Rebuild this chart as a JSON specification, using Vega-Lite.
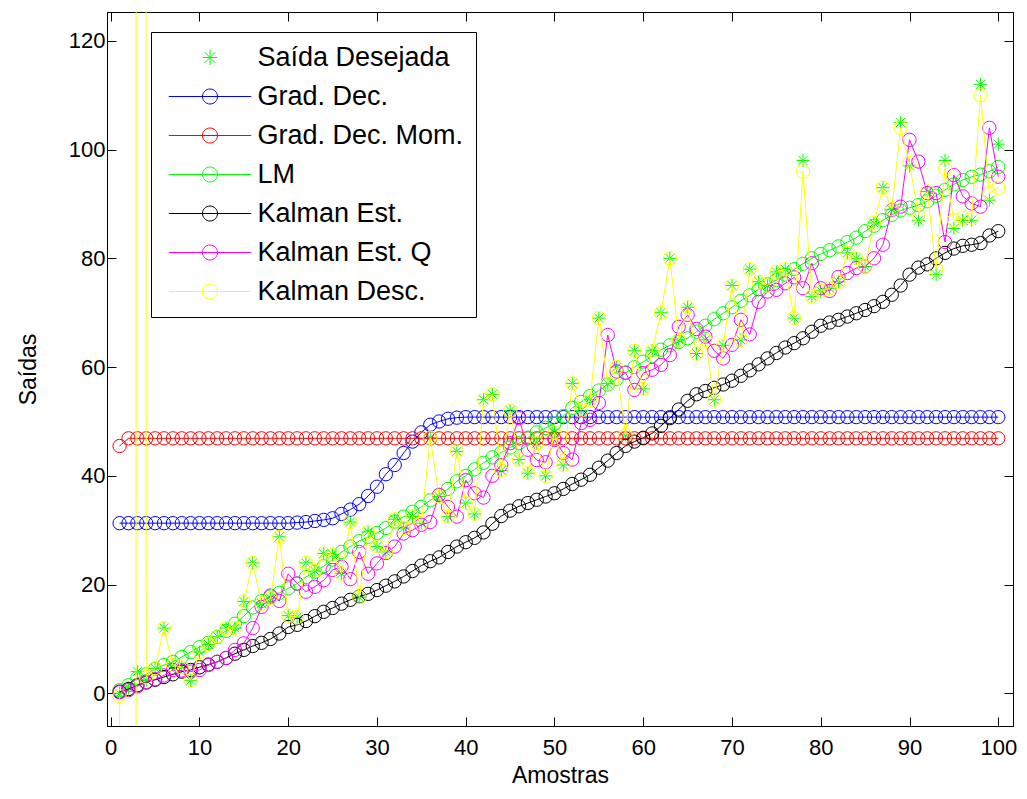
{
  "$schema": "https://vega.github.io/schema/vega-lite/v6.json",
  "width": 906,
  "height": 714,
  "autosize": {"type": "none"},
  "padding": {"left": 107, "top": 12, "right": 14, "bottom": 73},
  "background": "white",
  "config": {
    "view": {"stroke": "black", "strokeWidth": 1},
    "font": "Liberation Sans",
    "axis": {"labelFont": "Liberation Sans", "titleFont": "Liberation Sans", "labelColor": "black", "titleColor": "black", "tickColor": "black", "domainColor": "black", "grid": false, "titleFontWeight": "normal"}
  },
  "data": {
    "values": [
      {"n":1,"d":0,"gd":31.3,"gdm":45.5,"lm":0.6,"ke":0.3,"keq":0.2,"kd":-0.5},
      {"n":2,"d":1,"gd":31.3,"gdm":46.9,"lm":1.5,"ke":0.8,"keq":0.6,"kd":-60000},
      {"n":3,"d":4,"gd":31.3,"gdm":46.9,"lm":2.8,"ke":1.5,"keq":1.3,"kd":10000},
      {"n":4,"d":2.4,"gd":31.3,"gdm":46.9,"lm":3.5,"ke":2,"keq":2.1,"kd":3},
      {"n":5,"d":4.6,"gd":31.3,"gdm":46.9,"lm":4.5,"ke":2.5,"keq":2.6,"kd":4.6},
      {"n":6,"d":12,"gd":31.3,"gdm":46.9,"lm":5.2,"ke":3,"keq":3.3,"kd":12},
      {"n":7,"d":5.2,"gd":31.3,"gdm":46.9,"lm":5.8,"ke":3.5,"keq":4.3,"kd":5.2},
      {"n":8,"d":4.8,"gd":31.3,"gdm":46.9,"lm":6.7,"ke":4,"keq":4.2,"kd":4.8},
      {"n":9,"d":2.4,"gd":31.3,"gdm":46.9,"lm":7.6,"ke":4.3,"keq":4,"kd":2.4},
      {"n":10,"d":7.6,"gd":31.3,"gdm":46.9,"lm":8.5,"ke":4.8,"keq":4.3,"kd":7.6},
      {"n":11,"d":9,"gd":31.3,"gdm":46.9,"lm":9.3,"ke":5.3,"keq":5.2,"kd":9},
      {"n":12,"d":10.5,"gd":31.3,"gdm":46.9,"lm":10.4,"ke":5.8,"keq":5.8,"kd":10.5},
      {"n":13,"d":12,"gd":31.3,"gdm":46.9,"lm":11.5,"ke":6.5,"keq":6.5,"kd":12},
      {"n":14,"d":12,"gd":31.3,"gdm":46.9,"lm":12.8,"ke":7.3,"keq":8,"kd":12},
      {"n":15,"d":16.9,"gd":31.3,"gdm":46.9,"lm":14.2,"ke":8,"keq":9.2,"kd":16.9},
      {"n":16,"d":24,"gd":31.3,"gdm":46.9,"lm":15.8,"ke":8.7,"keq":12,"kd":24},
      {"n":17,"d":16.5,"gd":31.3,"gdm":46.9,"lm":17,"ke":9.3,"keq":15.9,"kd":16.5},
      {"n":18,"d":17.5,"gd":31.3,"gdm":46.9,"lm":17.8,"ke":10,"keq":18,"kd":17.5},
      {"n":19,"d":28.8,"gd":31.3,"gdm":46.9,"lm":18.5,"ke":11,"keq":17,"kd":28.8},
      {"n":20,"d":14.3,"gd":31.3,"gdm":46.9,"lm":19.3,"ke":12.2,"keq":22,"kd":14.3},
      {"n":21,"d":14,"gd":31.4,"gdm":46.9,"lm":20.2,"ke":12.6,"keq":20.2,"kd":14},
      {"n":22,"d":24,"gd":31.5,"gdm":46.9,"lm":21.4,"ke":13.3,"keq":18.7,"kd":24},
      {"n":23,"d":22.5,"gd":31.7,"gdm":46.9,"lm":22.4,"ke":14.2,"keq":19.6,"kd":22.5},
      {"n":24,"d":25.7,"gd":31.9,"gdm":46.9,"lm":23.4,"ke":15,"keq":20.8,"kd":25.7},
      {"n":25,"d":25.5,"gd":32.2,"gdm":46.9,"lm":24.6,"ke":15.7,"keq":22.7,"kd":25.5},
      {"n":26,"d":22,"gd":33,"gdm":46.9,"lm":26,"ke":16.5,"keq":23.3,"kd":22},
      {"n":27,"d":31.5,"gd":33.8,"gdm":46.9,"lm":27,"ke":17.2,"keq":21,"kd":31.5},
      {"n":28,"d":17.7,"gd":34.8,"gdm":46.9,"lm":28,"ke":17.8,"keq":26,"kd":17.7},
      {"n":29,"d":29.7,"gd":36.3,"gdm":46.9,"lm":28.8,"ke":18.3,"keq":22,"kd":29.7},
      {"n":30,"d":27,"gd":38,"gdm":46.9,"lm":29.5,"ke":19,"keq":23.9,"kd":27},
      {"n":31,"d":26,"gd":40.3,"gdm":46.9,"lm":30.4,"ke":19.8,"keq":25.8,"kd":26},
      {"n":32,"d":32,"gd":42,"gdm":46.9,"lm":31.6,"ke":20.6,"keq":27,"kd":32},
      {"n":33,"d":30.4,"gd":44.2,"gdm":46.9,"lm":32.5,"ke":21.5,"keq":29.4,"kd":30.4},
      {"n":34,"d":32.5,"gd":46.3,"gdm":46.9,"lm":33.4,"ke":22.5,"keq":30,"kd":32.5},
      {"n":35,"d":31.3,"gd":48,"gdm":46.9,"lm":34.3,"ke":23.5,"keq":31,"kd":31.3},
      {"n":36,"d":47,"gd":49.4,"gdm":46.9,"lm":35.5,"ke":24.3,"keq":31.5,"kd":47},
      {"n":37,"d":36.2,"gd":50,"gdm":46.9,"lm":36.5,"ke":25,"keq":36.5,"kd":36.2},
      {"n":38,"d":32.5,"gd":50.5,"gdm":46.9,"lm":37.6,"ke":26,"keq":34.3,"kd":32.5},
      {"n":39,"d":44.5,"gd":50.7,"gdm":46.9,"lm":39,"ke":27,"keq":32.5,"kd":44.5},
      {"n":40,"d":35,"gd":50.8,"gdm":46.9,"lm":40,"ke":27.8,"keq":39.2,"kd":35},
      {"n":41,"d":33,"gd":50.8,"gdm":46.9,"lm":41.2,"ke":28.6,"keq":36.8,"kd":33},
      {"n":42,"d":54,"gd":50.8,"gdm":46.9,"lm":42.4,"ke":29.6,"keq":36,"kd":54},
      {"n":43,"d":55,"gd":50.8,"gdm":46.9,"lm":43.4,"ke":31.2,"keq":40,"kd":55},
      {"n":44,"d":41,"gd":50.8,"gdm":46.9,"lm":44.3,"ke":32.6,"keq":42,"kd":41},
      {"n":45,"d":52,"gd":50.8,"gdm":46.9,"lm":45.2,"ke":33.6,"keq":46,"kd":52},
      {"n":46,"d":43,"gd":50.8,"gdm":46.9,"lm":46,"ke":34.4,"keq":50.6,"kd":43},
      {"n":47,"d":40.5,"gd":50.8,"gdm":46.9,"lm":47,"ke":35,"keq":44.8,"kd":40.5},
      {"n":48,"d":46,"gd":50.8,"gdm":46.9,"lm":48,"ke":35.6,"keq":42.9,"kd":46},
      {"n":49,"d":40,"gd":50.8,"gdm":46.9,"lm":48.8,"ke":36.2,"keq":42.5,"kd":40},
      {"n":50,"d":48,"gd":50.8,"gdm":46.9,"lm":49.6,"ke":36.8,"keq":46.6,"kd":48},
      {"n":51,"d":42,"gd":50.8,"gdm":46.9,"lm":51,"ke":37.6,"keq":44.2,"kd":42},
      {"n":52,"d":57,"gd":50.8,"gdm":46.9,"lm":52.5,"ke":38.5,"keq":43,"kd":57},
      {"n":53,"d":52,"gd":50.8,"gdm":46.9,"lm":53.6,"ke":39.3,"keq":49.7,"kd":52},
      {"n":54,"d":54,"gd":50.8,"gdm":46.9,"lm":54.7,"ke":40.2,"keq":50.3,"kd":54},
      {"n":55,"d":69,"gd":50.8,"gdm":46.9,"lm":55.7,"ke":41.5,"keq":53.4,"kd":69},
      {"n":56,"d":57,"gd":50.8,"gdm":46.9,"lm":56.8,"ke":42.8,"keq":65.9,"kd":57},
      {"n":57,"d":60,"gd":50.8,"gdm":46.9,"lm":57.8,"ke":44.2,"keq":59.2,"kd":60},
      {"n":58,"d":47.5,"gd":50.8,"gdm":46.9,"lm":58.9,"ke":45.5,"keq":59,"kd":47.5},
      {"n":59,"d":63,"gd":50.8,"gdm":46.9,"lm":60,"ke":46.3,"keq":55.8,"kd":63},
      {"n":60,"d":56,"gd":50.8,"gdm":46.9,"lm":61,"ke":47,"keq":58.9,"kd":56},
      {"n":61,"d":63,"gd":50.8,"gdm":46.9,"lm":62,"ke":47.8,"keq":59.5,"kd":63},
      {"n":62,"d":70,"gd":50.8,"gdm":46.9,"lm":63.2,"ke":49.2,"keq":60.4,"kd":70},
      {"n":63,"d":80,"gd":50.8,"gdm":46.9,"lm":64,"ke":50.6,"keq":62.2,"kd":80},
      {"n":64,"d":65,"gd":50.8,"gdm":46.9,"lm":64.6,"ke":52.2,"keq":67.4,"kd":65},
      {"n":65,"d":71,"gd":50.8,"gdm":46.9,"lm":65.3,"ke":53.8,"keq":69.6,"kd":71},
      {"n":66,"d":62.5,"gd":50.8,"gdm":46.9,"lm":66.5,"ke":55,"keq":67,"kd":62.5},
      {"n":67,"d":65,"gd":50.8,"gdm":46.9,"lm":67.6,"ke":55.6,"keq":65.6,"kd":65},
      {"n":68,"d":54,"gd":50.8,"gdm":46.9,"lm":68.8,"ke":56.2,"keq":63,"kd":54},
      {"n":69,"d":64,"gd":50.8,"gdm":46.9,"lm":69.9,"ke":56.8,"keq":61.6,"kd":64},
      {"n":70,"d":75,"gd":50.8,"gdm":46.9,"lm":71,"ke":57.5,"keq":64.1,"kd":75},
      {"n":71,"d":65,"gd":50.8,"gdm":46.9,"lm":72.2,"ke":58.4,"keq":68.7,"kd":65},
      {"n":72,"d":78,"gd":50.8,"gdm":46.9,"lm":73.2,"ke":59.4,"keq":66,"kd":78},
      {"n":73,"d":75.7,"gd":50.8,"gdm":46.9,"lm":74.3,"ke":60.5,"keq":72,"kd":75.7},
      {"n":74,"d":75,"gd":50.8,"gdm":46.9,"lm":75.2,"ke":61.6,"keq":73.9,"kd":75},
      {"n":75,"d":77.5,"gd":50.8,"gdm":46.9,"lm":76,"ke":62.6,"keq":74.2,"kd":77.5},
      {"n":76,"d":78,"gd":50.8,"gdm":46.9,"lm":77,"ke":63.6,"keq":75.4,"kd":78},
      {"n":77,"d":69,"gd":50.8,"gdm":46.9,"lm":78,"ke":64.4,"keq":76.5,"kd":69},
      {"n":78,"d":98,"gd":50.8,"gdm":46.9,"lm":79,"ke":65.3,"keq":74.5,"kd":96},
      {"n":79,"d":73,"gd":50.8,"gdm":46.9,"lm":80,"ke":66.5,"keq":79.1,"kd":73},
      {"n":80,"d":74,"gd":50.8,"gdm":46.9,"lm":80.8,"ke":67.6,"keq":74.5,"kd":74},
      {"n":81,"d":74.5,"gd":50.8,"gdm":46.9,"lm":81.5,"ke":68.2,"keq":74,"kd":74.5},
      {"n":82,"d":75.7,"gd":50.8,"gdm":46.9,"lm":82.2,"ke":68.7,"keq":76.6,"kd":75.7},
      {"n":83,"d":81,"gd":50.8,"gdm":46.9,"lm":83,"ke":69.3,"keq":77.3,"kd":81},
      {"n":84,"d":80,"gd":50.8,"gdm":46.9,"lm":83.8,"ke":69.9,"keq":78.2,"kd":80},
      {"n":85,"d":78.5,"gd":50.8,"gdm":46.9,"lm":85,"ke":70.5,"keq":78.5,"kd":78.5},
      {"n":86,"d":86.5,"gd":50.8,"gdm":46.9,"lm":86,"ke":71.2,"keq":80,"kd":86.5},
      {"n":87,"d":93,"gd":50.8,"gdm":46.9,"lm":87,"ke":72,"keq":82.5,"kd":93},
      {"n":88,"d":89,"gd":50.8,"gdm":46.9,"lm":88,"ke":73.3,"keq":88.9,"kd":89},
      {"n":89,"d":105,"gd":50.8,"gdm":46.9,"lm":88.8,"ke":75,"keq":89.5,"kd":104},
      {"n":90,"d":97,"gd":50.8,"gdm":46.9,"lm":89.3,"ke":77,"keq":101.8,"kd":97.5},
      {"n":91,"d":87,"gd":50.8,"gdm":46.9,"lm":89.8,"ke":78.3,"keq":97.8,"kd":88},
      {"n":92,"d":92.3,"gd":50.8,"gdm":46.9,"lm":90.5,"ke":78.9,"keq":92,"kd":92.3},
      {"n":93,"d":77,"gd":50.8,"gdm":46.9,"lm":91.5,"ke":80,"keq":92,"kd":78},
      {"n":94,"d":98,"gd":50.8,"gdm":46.9,"lm":92.6,"ke":81,"keq":83,"kd":96.5},
      {"n":95,"d":85.5,"gd":50.8,"gdm":46.9,"lm":93.6,"ke":81.8,"keq":95.3,"kd":87},
      {"n":96,"d":87,"gd":50.8,"gdm":46.9,"lm":94.4,"ke":82.3,"keq":91.4,"kd":87.5},
      {"n":97,"d":87,"gd":50.8,"gdm":46.9,"lm":95,"ke":82.5,"keq":90.1,"kd":87.5},
      {"n":98,"d":112,"gd":50.8,"gdm":46.9,"lm":95.4,"ke":82.8,"keq":89.5,"kd":110},
      {"n":99,"d":90.7,"gd":50.8,"gdm":46.9,"lm":96,"ke":84.2,"keq":104,"kd":92},
      {"n":100,"d":101,"gd":50.8,"gdm":46.9,"lm":96.8,"ke":85,"keq":95,"kd":93}
    ]
  },
  "transform": [{"fold": ["d", "gd", "gdm", "lm", "ke", "keq", "kd"], "as": ["s", "v"]}],
  "resolve": {"axis": {"x": "independent", "y": "independent"}},
  "encoding": {
    "color": {
      "field": "s",
      "type": "nominal",
      "scale": {"domain": ["d", "gd", "gdm", "lm", "ke", "keq", "kd"], "range": ["#00ff00", "#0000ff", "#ff0000", "#00ff00", "#000000", "#ff00ff", "#ffff00"]},
      "legend": {
        "orient": "none",
        "legendX": 44,
        "legendY": 20,
        "title": null,
        "padding": 12,
        "strokeColor": "black",
        "fillColor": "white",
        "labelFont": "Liberation Sans",
        "labelFontSize": 27,
        "labelLimit": 0,
        "labelColor": "black",
        "symbolSize": 225,
        "symbolStrokeWidth": 1,
        "symbolOffset": 33.5,
        "labelOffset": 34,
        "rowPadding": 11,
        "labelExpr": "datum.value == 'd' ? 'Saída Desejada' : datum.value == 'gd' ? 'Grad. Dec.' : datum.value == 'gdm' ? 'Grad. Dec. Mom.' : datum.value == 'lm' ? 'LM' : datum.value == 'ke' ? 'Kalman Est.' : datum.value == 'keq' ? 'Kalman Est. Q' : 'Kalman Desc.'",
        "encode": {
          "symbols": {
            "update": {
              "shape": {"signal": "datum.value == 'd' ? 'M-1,0L1,0M0,-1L0,1M-0.7,-0.7L0.7,0.7M-0.7,0.7L0.7,-0.7' : 'M-5.5,0L5.5,0M-1,0A1,1,0,1,0,1,0A1,1,0,1,0,-1,0'"},
              "fill": {"value": "transparent"}
            }
          }
        }
      }
    }
  },
  "layer": [
    {
      "transform": [{"filter": "datum.s == 'd'"}],
      "mark": {"type": "point", "shape": "M-1,0L1,0M0,-1L0,1M-0.7,-0.7L0.7,0.7M-0.7,0.7L0.7,-0.7", "filled": false, "size": 170, "strokeWidth": 1, "clip": true, "opacity": 1},
      "encoding": {
        "x": {"field": "n", "type": "quantitative", "scale": {"domain": [-0.42, 101.66], "nice": false, "zero": false},
          "axis": {"orient": "bottom", "values": [0,10,20,30,40,50,60,70,80,90,100], "tickSize": -9, "labelPadding": 20, "labelFontSize": 22, "title": "Amostras", "titleFontSize": 23, "titleY": 49, "titleBaseline": "middle", "domain": true}},
        "y": {"field": "v", "type": "quantitative", "scale": {"domain": [-6, 125.3], "nice": false, "zero": false},
          "axis": {"orient": "left", "values": [0,20,40,60,80,100,120], "tickSize": -9, "labelPadding": 11, "labelFontSize": 22, "title": "Saídas", "titleFontSize": 23, "titleX": -79, "titleY": 357, "titleAngle": -90, "titleAlign": "center", "titleBaseline": "middle", "domain": true}}
      }
    },
    {
      "transform": [{"filter": "datum.s == 'gd'"}],
      "mark": {"type": "line", "strokeWidth": 1, "clip": true, "point": {"filled": false, "size": 177, "strokeWidth": 1, "opacity": 1}},
      "encoding": {
        "x": {"field": "n", "type": "quantitative", "axis": {"orient": "top", "values": [0,10,20,30,40,50,60,70,80,90,100], "tickSize": -9, "labels": false, "title": null, "domain": true}},
        "y": {"field": "v", "type": "quantitative", "axis": {"orient": "right", "values": [0,20,40,60,80,100,120], "tickSize": -9, "labels": false, "title": null, "domain": true}}
      }
    },
    {
      "transform": [{"filter": "datum.s == 'gdm'"}],
      "mark": {"type": "line", "strokeWidth": 1, "clip": true, "point": {"filled": false, "size": 177, "strokeWidth": 1, "opacity": 1}},
      "encoding": {"x": {"field": "n", "type": "quantitative", "axis": null}, "y": {"field": "v", "type": "quantitative", "axis": null}}
    },
    {
      "transform": [{"filter": "datum.s == 'lm'"}],
      "mark": {"type": "line", "strokeWidth": 1, "clip": true, "point": {"filled": false, "size": 177, "strokeWidth": 1, "opacity": 1}},
      "encoding": {"x": {"field": "n", "type": "quantitative", "axis": null}, "y": {"field": "v", "type": "quantitative", "axis": null}}
    },
    {
      "transform": [{"filter": "datum.s == 'ke'"}],
      "mark": {"type": "line", "strokeWidth": 1, "clip": true, "point": {"filled": false, "size": 177, "strokeWidth": 1, "opacity": 1}},
      "encoding": {"x": {"field": "n", "type": "quantitative", "axis": null}, "y": {"field": "v", "type": "quantitative", "axis": null}}
    },
    {
      "transform": [{"filter": "datum.s == 'keq'"}],
      "mark": {"type": "line", "strokeWidth": 1, "clip": true, "point": {"filled": false, "size": 177, "strokeWidth": 1, "opacity": 1}},
      "encoding": {"x": {"field": "n", "type": "quantitative", "axis": null}, "y": {"field": "v", "type": "quantitative", "axis": null}}
    },
    {
      "transform": [{"filter": "datum.s == 'kd'"}],
      "mark": {"type": "line", "strokeWidth": 1, "clip": true, "point": {"filled": false, "size": 177, "strokeWidth": 1, "opacity": 1, "clip": true}},
      "encoding": {"x": {"field": "n", "type": "quantitative", "axis": null}, "y": {"field": "v", "type": "quantitative", "axis": null}}
    }
  ]
}
